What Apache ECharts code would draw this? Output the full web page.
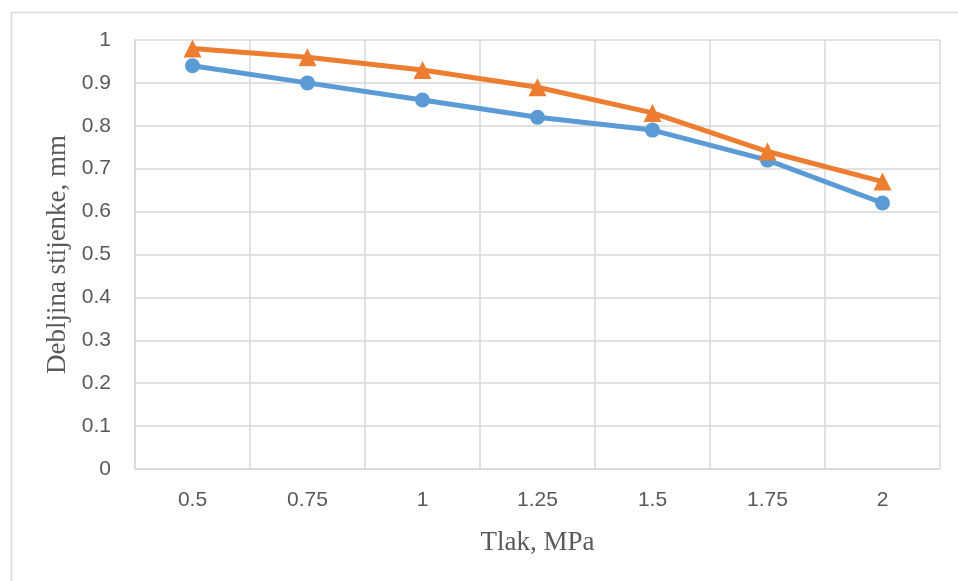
<!DOCTYPE html>
<html>
<head>
<meta charset="utf-8">
<script src="https://cdn.jsdelivr.net/npm/echarts@6/dist/echarts.min.js"></script>
<style>
  html, body { margin: 0; padding: 0; background: #fff; }
  #chart { width: 958px; height: 581px; }
</style>
</head>
<body>
<div id="chart"></div>
<script>
const categories = ['0.5', '0.75', '1', '1.25', '1.5', '1.75', '2']
const seriesBlue = [0.94, 0.90, 0.86, 0.82, 0.79, 0.72, 0.62]
const seriesOrange = [0.98, 0.96, 0.93, 0.89, 0.83, 0.74, 0.67]

const gridColor = '#d9d9d9'
const textColor = '#595959'

const chart = echarts.init(document.getElementById('chart'), null, { renderer: 'canvas' })

chart.setOption({
  animation: false,
  graphic: [{
    type: 'rect',
    left: 9,
    top: 10,
    shape: { width: 1000, height: 620 },
    style: { fill: 'none', stroke: gridColor, lineWidth: 1.5 },
    silent: true,
  }],
  grid: { left: 135, right: 18, top: 40, bottom: 112 },
  xAxis: {
    type: 'category',
    data: categories,
    boundaryGap: true,
    name: 'Tlak, MPa',
    nameLocation: 'middle',
    nameGap: 60,
    nameTextStyle: { color: textColor, fontFamily: 'Liberation Serif', fontSize: 27 },
    axisLine: { lineStyle: { color: gridColor, width: 1.5 } },
    axisTick: { show: false },
    axisLabel: { color: textColor, fontFamily: 'Liberation Sans', fontSize: 21, margin: 21 },
    splitLine: { show: true, lineStyle: { color: gridColor, width: 1.5 } },
  },
  yAxis: {
    type: 'value',
    min: 0,
    max: 1,
    interval: 0.1,
    name: 'Debljina stijenke, mm',
    nameLocation: 'middle',
    nameGap: 58,
    nameTextStyle: { color: textColor, fontFamily: 'Liberation Serif', fontSize: 27 },
    axisLine: { show: true, lineStyle: { color: gridColor, width: 1.5 } },
    axisTick: { show: false },
    axisLabel: {
      color: textColor, fontFamily: 'Liberation Sans', fontSize: 21, margin: 24,
      formatter: v => String(Math.round(v * 10) / 10),
    },
    splitLine: { show: true, lineStyle: { color: gridColor, width: 1.5 } },
  },
  series: [
    {
      type: 'line',
      data: seriesBlue,
      symbol: 'circle',
      symbolSize: 15,
      lineStyle: { color: '#5b9bd5', width: 5 },
      itemStyle: { color: '#5b9bd5' },
    },
    {
      type: 'line',
      data: seriesOrange,
      symbol: 'triangle',
      symbolSize: 18,
      lineStyle: { color: '#ed7d31', width: 5 },
      itemStyle: { color: '#ed7d31' },
    },
  ],
})
</script>
</body>
</html>
